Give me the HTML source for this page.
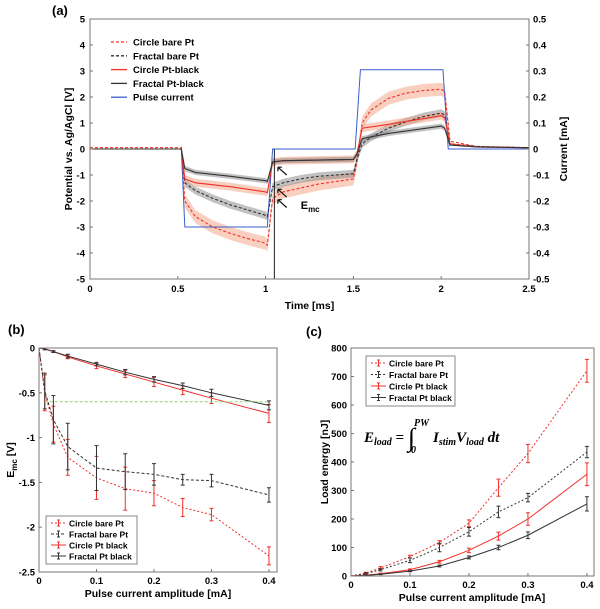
<!DOCTYPE html>
<html><head><meta charset="utf-8"><style>
body{margin:0;background:#fff}
svg{display:block;font-family:"Liberation Sans",Arial,sans-serif;font-weight:bold}
</style></head><body>
<svg id="fig" width="600" height="609" viewBox="0 0 600 609" xmlns="http://www.w3.org/2000/svg">
<g id="pa"></g>
<g id="pb"></g>
<g id="pc"></g>
</svg>
<script>
// ---------- Panel (a) data ----------
const tPulse=[0,0.52,0.54,1.01,1.04,1.51,1.54,2.01,2.04,2.5];
const vPulse=[0,0,-0.30,-0.30,0,0,0.305,0.305,0,0];
const tCB=[0,0.52,0.54,0.6,0.7,0.8,0.9,1.0,1.01,1.04,1.1,1.2,1.3,1.4,1.5,1.52,1.55,1.6,1.7,1.8,1.9,2.0,2.02,2.05,2.2,2.5];
const vCB=[0.05,0.05,-2.0,-2.6,-3.0,-3.25,-3.45,-3.62,-3.7,-1.9,-1.65,-1.5,-1.35,-1.25,-1.15,-0.5,1.0,1.5,1.95,2.15,2.25,2.3,2.2,0.3,0.1,0.05];
const tFB=[0,0.52,0.54,0.6,0.7,0.8,0.9,1.0,1.01,1.04,1.1,1.2,1.3,1.4,1.5,1.52,1.55,1.6,1.7,1.8,1.9,2.0,2.02,2.05,2.2,2.5];
const vFB=[0,0,-1.3,-1.6,-1.9,-2.15,-2.35,-2.55,-2.6,-1.45,-1.3,-1.15,-1.05,-1.0,-0.95,-0.4,0.2,0.45,0.8,1.05,1.25,1.38,1.3,0.2,0.1,0.05];
const tCK=[0,0.52,0.54,0.6,0.8,1.0,1.01,1.04,1.1,1.5,1.52,1.55,1.7,2.0,2.02,2.05,2.2,2.5];
const vCK=[0,0,-1.15,-1.3,-1.45,-1.65,-1.68,-0.5,-0.45,-0.4,-0.2,0.8,0.95,1.28,1.2,0.2,0.08,0.05];
const tFK=[0,0.52,0.54,0.6,0.8,1.0,1.01,1.04,1.1,1.5,1.52,1.55,1.7,2.0,2.02,2.05,2.2,2.5];
const vFK=[0,0,-0.75,-0.9,-1.05,-1.22,-1.25,-0.5,-0.45,-0.4,-0.2,0.4,0.6,0.88,0.8,0.15,0.08,0.05];
const xTicksA=[0,0.5,1,1.5,2,2.5];
const yTicksA=[5,4,3,2,1,0,-1,-2,-3,-4,-5];
const yTicksAR=["0.5","0.4","0.3","0.2","0.1","0","-0.1","-0.2","-0.3","-0.4","-0.5"];

// ---------- Panel (b) data ----------
const xB=[0,0.01,0.025,0.05,0.1,0.15,0.2,0.25,0.3,0.4];
const cbB=[0,-0.5,-0.85,-1.22,-1.45,-1.57,-1.62,-1.78,-1.86,-2.32];
const cbBe=[0,0.2,0.2,0.2,0.24,0.24,0.14,0.1,0.07,0.1];
const fbB=[0,-0.48,-0.8,-1.1,-1.34,-1.38,-1.41,-1.47,-1.48,-1.64];
const fbBe=[0,0.2,0.27,0.26,0.25,0.2,0.12,0.06,0.07,0.08];
const ckB=[0,-0.01,-0.04,-0.1,-0.2,-0.29,-0.38,-0.47,-0.56,-0.73];
const ckBe=[0,0.01,0.01,0.02,0.03,0.04,0.05,0.05,0.06,0.1];
const fkB=[0,-0.01,-0.04,-0.09,-0.18,-0.27,-0.35,-0.42,-0.5,-0.64];
const fkBe=[0,0.01,0.01,0.02,0.02,0.03,0.03,0.03,0.04,0.05];
const xTicksB=[0,0.1,0.2,0.3,0.4];
const yTicksB=[0,-0.5,-1,-1.5,-2,-2.5];

// ---------- Panel (c) data ----------
const xC=[0,0.025,0.05,0.1,0.15,0.2,0.25,0.3,0.4];
const cbC=[0,10,28,68,118,185,310,430,720];
const cbCe=[0,3,5,5,6,12,30,32,40];
const fbC=[0,8,22,55,100,155,225,275,435];
const fbCe=[0,3,4,8,15,15,20,15,20];
const ckC=[0,3,8,22,50,90,140,200,357];
const ckCe=[0,1,2,3,5,8,14,22,40];
const fkC=[0,2,6,17,35,65,100,143,253];
const fkCe=[0,1,1,2,3,5,8,12,25];
const xTicksC=[0,0.1,0.2,0.3,0.4];
const yTicksC=[0,100,200,300,400,500,600,700,800];

const NS="http://www.w3.org/2000/svg";
function mk(p,tag,a,txt){const e=document.createElementNS(NS,tag);for(const k in a)e.setAttribute(k,a[k]);if(txt!==undefined)e.textContent=txt;p.appendChild(e);return e;}
const RED="#f0302a",BLK="#333",BLUE="#3a5fcd";

// ---------- Panel (a) ----------
(function(){
const g=document.getElementById('pa');
const L=90,R=529,T=19,B=279;
const X=t=>L+(t/2.5)*(R-L), Y=v=>T+(5-v)/10*(B-T);
const band=(ts,vs,w,fill,name)=>{const idx=ts.map((t,i)=>i).filter(i=>ts[i]>=0.52&&ts[i]<=2.05);
 let up=idx.map(i=>X(ts[i])+','+Y(vs[i]+w));let dn=idx.map(i=>X(ts[i])+','+Y(vs[i]-w)).reverse();
 const e=mk(g,'polygon',{points:up.concat(dn).join(' '),fill:fill,stroke:'none'});
 
 };
const line=(ts,vs,col,dash,w,name)=>{const e=mk(g,'polyline',{points:ts.map((t,i)=>X(t)+','+Y(vs[i])).join(' '),fill:'none',stroke:col,'stroke-width':w,'stroke-dasharray':dash||'none'});
 
 };
band(tCB,vCB,0.25,'rgba(244,160,130,0.5)','band-circle-bare');
band(tFB,vFB,0.15,'rgba(120,120,120,0.45)','band-fractal-bare');
band(tCK,vCK,0.15,'rgba(244,160,130,0.5)','band-circle-black');
band(tFK,vFK,0.1,'rgba(120,120,120,0.45)','band-fractal-black');
line(tPulse,vPulse.map(v=>v*10),BLUE,null,1,'line-pulse-current');
line(tCB,vCB,RED,'3,2',1.1,'line-circle-bare');
line(tFB,vFB,BLK,'3,2',1.1,'line-fractal-bare');
line(tCK,vCK,RED,null,1.1,'line-circle-black');
line(tFK,vFK,BLK,null,1.1,'line-fractal-black');
let e=mk(g,'line',{x1:X(1.05),x2:X(1.05),y1:Y(0),y2:B,stroke:'#222','stroke-width':1});

[[-0.7],[-1.55],[-1.95]].forEach((a,i)=>{const x0=X(1.12),y0=Y(a[0]-0.3),x1=X(1.07),y1=Y(a[0]);
 const ar=mk(g,'path',{d:`M${x0},${y0}L${x1},${y1}M${x1},${y1}l4,0M${x1},${y1}l0,4`,stroke:'#111','stroke-width':1.2,fill:'none'});
 });
e=mk(g,'text',{x:X(1.2),y:Y(-2.3),'font-size':11});e.innerHTML='E<tspan font-size="8" dy="3">mc</tspan>';

e=mk(g,'rect',{x:L,y:T,width:R-L,height:B-T,fill:'none',stroke:'#777','stroke-width':1});

xTicksA.forEach(t=>{mk(g,'line',{x1:X(t),x2:X(t),y1:B,y2:B-3,stroke:'#777'});
 const tx=mk(g,'text',{x:X(t),y:B+13,'font-size':9.5,'text-anchor':'middle'},String(t));
 });
yTicksA.forEach((v,i)=>{mk(g,'line',{x1:L,x2:L+3,y1:Y(v),y2:Y(v),stroke:'#777'});mk(g,'line',{x1:R,x2:R-3,y1:Y(v),y2:Y(v),stroke:'#777'});
 const a=mk(g,'text',{x:L-5,y:Y(v)+3.5,'font-size':9.5,'text-anchor':'end'},String(v));
 
 const b=mk(g,'text',{x:R+4,y:Y(v)+3.5,'font-size':9.5},yTicksAR[i]);
 });
e=mk(g,'text',{x:(L+R)/2,y:309,'font-size':10.5,'text-anchor':'middle'},'Time [ms]');
e=mk(g,'text',{x:0,y:0,'font-size':10.5,'text-anchor':'middle',transform:`translate(72,${(T+B)/2}) rotate(-90)`},'Potential vs. Ag/AgCl [V]');
e=mk(g,'text',{x:0,y:0,'font-size':10.5,'text-anchor':'middle',transform:`translate(567,${(T+B)/2}) rotate(-90)`},'Current [mA]');
e=mk(g,'text',{x:52,y:15,'font-size':13},'(a)');
const leg=[['Circle bare Pt',RED,'3,2'],['Fractal bare Pt',BLK,'3,2'],['Circle Pt-black',RED,null],['Fractal Pt-black',BLK,null],['Pulse current',BLUE,null]];
leg.forEach((l,i)=>{const y=42+i*13.8;mk(g,'line',{x1:111,x2:127,y1:y,y2:y,stroke:l[1],'stroke-width':1.3,'stroke-dasharray':l[2]||'none'});
 const t=mk(g,'text',{x:133,y:y+3.5,'font-size':9.5},l[0]);});
})();

function errPanel(gid,cfg){
const g=document.getElementById(gid);
const {L,R,T,B,xmax,ymin,ymax}=cfg;
const X=x=>L+x/xmax*(R-L), Y=v=>T+(ymax-v)/(ymax-ymin)*(B-T);
cfg.series.forEach(s=>{
 const p=mk(g,'polyline',{points:s.x.map((x,i)=>X(x)+','+Y(s.y[i])).join(' '),fill:'none',stroke:s.c,'stroke-width':1,'stroke-dasharray':s.d||'none'});
 
 s.x.forEach((x,i)=>{if(!s.e[i])return;const x0=X(x),a=Y(s.y[i]+s.e[i]),b=Y(s.y[i]-s.e[i]);
  const eb=mk(g,'path',{d:`M${x0},${a}V${b}M${x0-2},${a}h4M${x0-2},${b}h4`,stroke:s.c,'stroke-width':1,fill:'none'});
  });
});
let e=mk(g,'rect',{x:L,y:T,width:R-L,height:B-T,fill:'none',stroke:'#777'});

cfg.xt.forEach(x=>{mk(g,'line',{x1:X(x),x2:X(x),y1:B,y2:B-3,stroke:'#777'});
 const t=mk(g,'text',{x:X(x),y:B+12,'font-size':9.5,'text-anchor':'middle'},String(x));});
cfg.yt.forEach(v=>{mk(g,'line',{x1:L,x2:L+3,y1:Y(v),y2:Y(v),stroke:'#777'});
 const t=mk(g,'text',{x:L-4,y:Y(v)+3.5,'font-size':9.5,'text-anchor':'end'},String(v));});
e=mk(g,'text',{x:cfg.xtx,y:B+25,'font-size':10.5,'text-anchor':'middle'},'Pulse current amplitude [mA]');
const lx=cfg.lg[0],ly=cfg.lg[1],lw=cfg.lg[2],lh=cfg.lg[3];
e=mk(g,'rect',{x:lx,y:ly,width:lw,height:lh,fill:'#fff',stroke:'#888'});
cfg.series.forEach((s,i)=>{const y=ly+7+i*(lh-4)/4;
 mk(g,'line',{x1:lx+5,x2:lx+20,y1:y,y2:y,stroke:s.c,'stroke-dasharray':s.d||'none'});
 mk(g,'path',{d:`M${lx+12.5},${y-3}V${y+3}M${lx+11},${y-3}h3M${lx+11},${y+3}h3`,stroke:s.c,fill:'none'});
 const t=mk(g,'text',{x:lx+23,y:y+3.3,'font-size':8.5},s.lab);});
return {g,X,Y};
}

// ---------- Panel (b) ----------
(function(){
const r=errPanel('pb',{L:39,R:277,T:348,B:572,xmax:0.414,ymin:-2.5,ymax:0,xt:xTicksB,yt:yTicksB,xtx:158,lg:[46,516,91,48],
series:[{x:xB,y:cbB,e:cbBe,c:RED,d:'2,2',n:'line-circle-bare',lab:'Circle bare Pt'},
{x:xB,y:fbB,e:fbBe,c:BLK,d:'3,2',n:'line-fractal-bare',lab:'Fractal bare Pt'},
{x:xB,y:ckB,e:ckBe,c:RED,n:'line-circle-black',lab:'Circle Pt black'},
{x:xB,y:fkB,e:fkBe,c:BLK,n:'line-fractal-black',lab:'Fractal Pt black'}]});
let e=mk(r.g,'line',{x1:r.X(0.01),x2:r.X(0.4),y1:r.Y(-0.6),y2:r.Y(-0.6),stroke:'#8fd46a','stroke-dasharray':'3,2'});

e=mk(r.g,'text',{x:8,y:334,'font-size':13},'(b)');
e=mk(r.g,'text',{x:0,y:0,'font-size':10.5,'text-anchor':'middle',transform:'translate(14,460) rotate(-90)'});e.innerHTML='E<tspan font-size="8" dy="3">mc</tspan><tspan dy="-3"> [V]</tspan>';

})();

// ---------- Panel (c) ----------
(function(){
const r=errPanel('pc',{L:351,R:594,T:348,B:576,xmax:0.412,ymin:0,ymax:800,xt:xTicksC,yt:yTicksC,xtx:472,lg:[366,356,89,50],
series:[{x:xC,y:cbC,e:cbCe,c:RED,d:'2,2',n:'line-circle-bare',lab:'Circle bare Pt'},
{x:xC,y:fbC,e:fbCe,c:BLK,d:'2,2',n:'line-fractal-bare',lab:'Fractal bare Pt'},
{x:xC,y:ckC,e:ckCe,c:RED,n:'line-circle-black',lab:'Circle Pt black'},
{x:xC,y:fkC,e:fkCe,c:BLK,n:'line-fractal-black',lab:'Fractal Pt black'}]});
let e=mk(r.g,'text',{x:306,y:336,'font-size':13},'(c)');
e=mk(r.g,'text',{x:0,y:0,'font-size':10.5,'text-anchor':'middle',transform:'translate(328,462) rotate(-90)'},'Load energy [nJ]');

e=mk(r.g,'text',{x:364,y:442,'font-size':15,'font-family':'Liberation Serif,serif','font-style':'italic'});
e.innerHTML='E<tspan font-size="10" dy="3">load</tspan><tspan dy="-3"> =  </tspan><tspan font-size="26" font-style="normal" font-weight="normal" dy="4">∫</tspan><tspan font-size="10" dx="-4" dy="7">0</tspan><tspan font-size="10" dx="-2" dy="-27">PW</tspan><tspan dx="4" dy="16">I</tspan><tspan font-size="10" dy="3">stim</tspan><tspan dy="-3">V</tspan><tspan font-size="10" dy="3">load</tspan><tspan dy="-3"> dt</tspan>';

})();
</script>
</body></html>
